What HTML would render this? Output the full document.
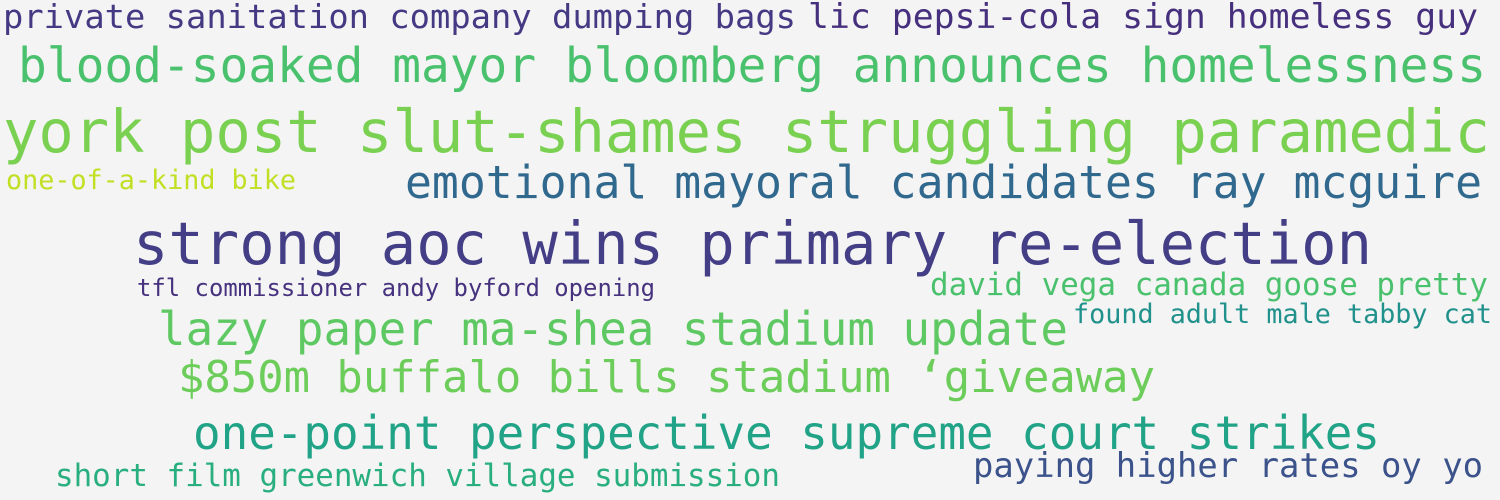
<!DOCTYPE html>
<html><head><meta charset="utf-8"><style>
html,body{margin:0;padding:0;background:#f4f4f4;}
svg{display:block}
text{font-family:"DejaVu Sans Mono","Liberation Mono",monospace;}
</style></head><body>
<svg width="1500" height="500" viewBox="0 0 1500 500">
<rect width="1500" height="500" fill="#f4f4f4"/>
<text x="3" y="28" font-size="33" fill="#443983" textLength="793" lengthAdjust="spacingAndGlyphs">private sanitation company dumping bags</text>
<text x="808" y="28" font-size="34" fill="#46307e" textLength="670" lengthAdjust="spacingAndGlyphs">lic pepsi-cola sign homeless guy</text>
<text x="18" y="82" font-size="48" fill="#4ac16d" textLength="1468" lengthAdjust="spacingAndGlyphs">blood-soaked mayor bloomberg announces homelessness</text>
<text x="3" y="152" font-size="59" fill="#7ad151" textLength="1487" lengthAdjust="spacingAndGlyphs">york post slut-shames struggling paramedic</text>
<text x="6" y="189" font-size="27" fill="#c2df23" textLength="290" lengthAdjust="spacingAndGlyphs">one-of-a-kind bike</text>
<text x="405" y="198" font-size="45" fill="#31688e" textLength="1077" lengthAdjust="spacingAndGlyphs">emotional mayoral candidates ray mcguire</text>
<text x="133" y="264" font-size="59" fill="#433e85" textLength="1239" lengthAdjust="spacingAndGlyphs">strong aoc wins primary re-election</text>
<text x="137" y="296" font-size="24" fill="#46327e" textLength="518" lengthAdjust="spacingAndGlyphs">tfl commissioner andy byford opening</text>
<text x="930" y="295" font-size="31" fill="#4ac16d" textLength="558" lengthAdjust="spacingAndGlyphs">david vega canada goose pretty</text>
<text x="1073" y="323" font-size="27" fill="#21918c" textLength="419" lengthAdjust="spacingAndGlyphs">found adult male tabby cat</text>
<text x="158" y="345" font-size="46" fill="#5ec962" textLength="910" lengthAdjust="spacingAndGlyphs">lazy paper ma-shea stadium update</text>
<text x="178" y="392" font-size="44" fill="#6ccd5a" textLength="977" lengthAdjust="spacingAndGlyphs">$850m buffalo bills stadium ‘giveaway</text>
<text x="193" y="449" font-size="46" fill="#20a386" textLength="1187" lengthAdjust="spacingAndGlyphs">one-point perspective supreme court strikes</text>
<text x="55" y="486" font-size="31" fill="#29af7f" textLength="725" lengthAdjust="spacingAndGlyphs">short film greenwich village submission</text>
<text x="973" y="477" font-size="34" fill="#3b528b" textLength="510" lengthAdjust="spacingAndGlyphs">paying higher rates oy yo</text>
</svg>
</body></html>
